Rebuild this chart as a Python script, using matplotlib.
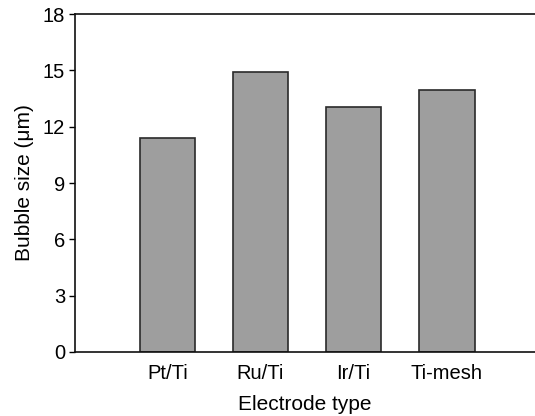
import matplotlib
matplotlib.use("Agg")
import matplotlib.pyplot as plt

categories = ["Pt/Ti", "Ru/Ti", "Ir/Ti", "Ti-mesh"]
bubble_size = [11.4, 14.9, 13.05, 13.95]
yticks = [0, 3, 6, 9, 12, 15, 18]

plt.rcParams['font.family'] = ['Liberation Sans', 'DejaVu Sans']

fig = plt.figure(figsize=(5.35, 4.16), dpi=100)
ax = fig.add_axes([0.140, 0.154, 0.860, 0.812])

x = list(range(len(categories)))
ax.bar(x, bubble_size, width=0.6, color="#9e9e9e", edgecolor="#2a2a2a", linewidth=1.2)

ax.set_xlim(-0.995, 3.95)
ax.set_ylim(0, 18)
ax.set_yticks(yticks)
ax.set_xticks(x)
ax.set_xticklabels(categories)

ax.spines['right'].set_visible(False)
for s in ['left', 'top', 'bottom']:
    ax.spines[s].set_linewidth(1.2)
    ax.spines[s].set_color("#111111")

ax.tick_params(axis='y', direction='out', length=4, width=1, pad=3, labelsize=14.5)
ax.tick_params(axis='x', length=0, pad=9, labelsize=14.5)

ax.set_ylabel("Bubble size (\u03bcm)", fontsize=15, labelpad=6)
ax.set_xlabel("Electrode type", fontsize=15, labelpad=8)

fig.savefig("out.png", dpi=100)
